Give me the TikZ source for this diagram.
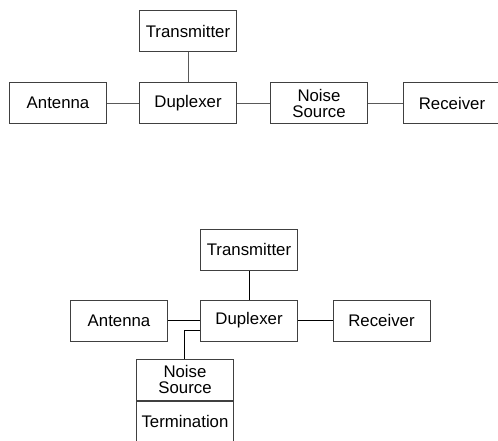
\documentclass[tikz,border=0pt]{standalone}
\usepackage{fontspec}
\setmainfont{Liberation Sans}
\begin{document}
\begin{tikzpicture}[x=1pt,y=-1pt,
  blk/.style={draw=black!75,line width=1pt,minimum width=97pt,minimum height=41pt,inner sep=0pt,align=center,font=\fontsize{16.8}{16}\selectfont},
  wire/.style={line width=1pt,draw=black!65},
  wireb/.style={line width=0.9pt,draw=black}]
\useasboundingbox (0,0) rectangle (498,440);
% top diagram
\node[blk] (t1) at (188,31) {Transmitter};
\node[blk] (a1) at (58,103) {Antenna};
\node[blk] (d1) at (188,103) {Duplexer};
\node[blk] (n1) at (319,103) {Noise\\Source};
\node[blk] (r1) at (452,103) {Receiver};
\draw[wire] (t1) -- (d1);
\draw[wire] (a1) -- (d1);
\draw[wire] (d1) -- (n1);
\draw[wire] (n1) -- (r1);
% bottom diagram
\node[blk] (t2) at (249,249.5) {Transmitter};
\node[blk] (a2) at (119,320.5) {Antenna};
\node[blk] (d2) at (249,320.5) {Duplexer};
\node[blk] (r2) at (381.5,320.5) {Receiver};
\node[blk] (n2) at (185,379.5) {Noise\\Source};
\node[blk,anchor=north] (term) at (n2.south) {Termination};
\draw[wireb] (t2) -- (d2);
\draw[wireb] (a2) -- (d2);
\draw[wireb] (d2) -- (r2);
\coordinate (tap) at ([yshift=-10pt]d2.west);
\draw[wireb] (tap) -| ([xshift=-1pt]n2.north);
\end{tikzpicture}
\end{document}
